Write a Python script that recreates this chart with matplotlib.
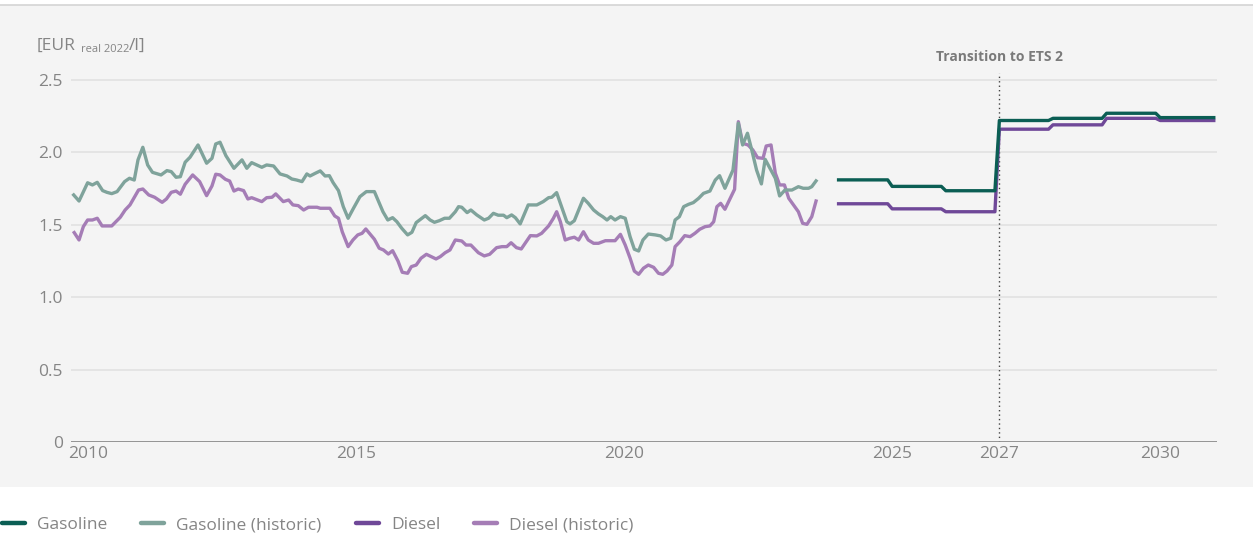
import matplotlib
matplotlib.use("Agg")
import matplotlib.pyplot as plt
from matplotlib.patches import Rectangle
from matplotlib.lines import Line2D
import numpy as np

plt.rcParams['font.family'] = ['Open Sans', 'DejaVu Sans']

# historic prices, EUR real 2022 per litre
gasoline_hist_t = [2009.73, 2009.83, 2009.99, 2010.08, 2010.17, 2010.27, 2010.35, 2010.44, 2010.54, 2010.68,
                   2010.77, 2010.86, 2010.93, 2011.02, 2011.11, 2011.20, 2011.36, 2011.47, 2011.55, 2011.64,
                   2011.72, 2011.81, 2011.90, 2012.05, 2012.21, 2012.31, 2012.38, 2012.46, 2012.57, 2012.72,
                   2012.87, 2012.96, 2013.05, 2013.24, 2013.33, 2013.46, 2013.58, 2013.71, 2013.80, 2013.89,
                   2013.99, 2014.08, 2014.14, 2014.24, 2014.33, 2014.42, 2014.50, 2014.57, 2014.67, 2014.76,
                   2014.85, 2014.95, 2015.07, 2015.19, 2015.34, 2015.42, 2015.50, 2015.59, 2015.68, 2015.76,
                   2015.85, 2015.96, 2016.04, 2016.12, 2016.29, 2016.38, 2016.46, 2016.55, 2016.65, 2016.74,
                   2016.85, 2016.91, 2016.97, 2017.07, 2017.14, 2017.25, 2017.39, 2017.47, 2017.56, 2017.65,
                   2017.75, 2017.81, 2017.90, 2017.97, 2018.06, 2018.21, 2018.37, 2018.49, 2018.59, 2018.65,
                   2018.74, 2018.81, 2018.93, 2018.99, 2019.07, 2019.24, 2019.33, 2019.43, 2019.52, 2019.60,
                   2019.68, 2019.75, 2019.83, 2019.93, 2020.02, 2020.11, 2020.19, 2020.27, 2020.35, 2020.45,
                   2020.58, 2020.68, 2020.78, 2020.87, 2020.95, 2021.03, 2021.11, 2021.20, 2021.29, 2021.39,
                   2021.48, 2021.60, 2021.70, 2021.78, 2021.88, 2022.03, 2022.13, 2022.21, 2022.30, 2022.38,
                   2022.47, 2022.56, 2022.63, 2022.72, 2022.82, 2022.90, 2023.00, 2023.13, 2023.25, 2023.34,
                   2023.44, 2023.50, 2023.58]
gasoline_hist = [1.706, 1.664, 1.790, 1.775, 1.793, 1.736, 1.724, 1.715, 1.729, 1.798,
                 1.821, 1.809, 1.948, 2.035, 1.913, 1.862, 1.844, 1.874, 1.867, 1.828,
                 1.832, 1.932, 1.966, 2.051, 1.925, 1.959, 2.058, 2.070, 1.977, 1.890,
                 1.948, 1.890, 1.929, 1.897, 1.913, 1.906, 1.851, 1.837, 1.816, 1.809,
                 1.798, 1.851, 1.837, 1.856, 1.872, 1.837, 1.839, 1.791, 1.736, 1.625,
                 1.545, 1.614, 1.694, 1.729, 1.729, 1.660, 1.590, 1.533, 1.549, 1.521,
                 1.476, 1.430, 1.448, 1.515, 1.563, 1.533, 1.517, 1.528, 1.545, 1.545,
                 1.590, 1.625, 1.621, 1.584, 1.602, 1.568, 1.533, 1.545, 1.579, 1.566,
                 1.566, 1.549, 1.568, 1.549, 1.506, 1.637, 1.637, 1.660, 1.687, 1.690,
                 1.722, 1.648, 1.521, 1.506, 1.528, 1.683, 1.648, 1.602, 1.575, 1.556,
                 1.533, 1.556, 1.533, 1.556, 1.545, 1.418, 1.331, 1.319, 1.395, 1.436,
                 1.430, 1.423, 1.395, 1.407, 1.533, 1.556, 1.625, 1.641, 1.653, 1.683,
                 1.717, 1.733, 1.809, 1.839, 1.752, 1.878, 2.201, 2.051, 2.132, 2.017,
                 1.878, 1.782, 1.952, 1.890, 1.821, 1.699, 1.740, 1.740, 1.763, 1.752,
                 1.752, 1.763, 1.803]

diesel_hist_t = [2009.74, 2009.83, 2009.91, 2009.99, 2010.08, 2010.17, 2010.26, 2010.44, 2010.60, 2010.69,
                 2010.78, 2010.94, 2011.02, 2011.13, 2011.24, 2011.38, 2011.46, 2011.55, 2011.64, 2011.72,
                 2011.81, 2011.95, 2012.08, 2012.21, 2012.31, 2012.38, 2012.46, 2012.56, 2012.64, 2012.72,
                 2012.80, 2012.90, 2012.98, 2013.05, 2013.24, 2013.33, 2013.43, 2013.50, 2013.58, 2013.64,
                 2013.74, 2013.82, 2013.92, 2014.02, 2014.11, 2014.27, 2014.33, 2014.51, 2014.60, 2014.67,
                 2014.74, 2014.85, 2014.94, 2015.03, 2015.11, 2015.18, 2015.26, 2015.34, 2015.43, 2015.51,
                 2015.60, 2015.68, 2015.78, 2015.86, 2015.96, 2016.03, 2016.12, 2016.21, 2016.31, 2016.40,
                 2016.49, 2016.57, 2016.66, 2016.75, 2016.85, 2016.97, 2017.05, 2017.14, 2017.28, 2017.39,
                 2017.49, 2017.62, 2017.72, 2017.81, 2017.89, 2017.99, 2018.08, 2018.25, 2018.37, 2018.46,
                 2018.59, 2018.68, 2018.74, 2018.81, 2018.90, 2018.99, 2019.07, 2019.15, 2019.24, 2019.33,
                 2019.43, 2019.52, 2019.65, 2019.74, 2019.83, 2019.93, 2020.02, 2020.11, 2020.19, 2020.27,
                 2020.36, 2020.45, 2020.55, 2020.64, 2020.72, 2020.80, 2020.89, 2020.95, 2021.04, 2021.13,
                 2021.23, 2021.32, 2021.41, 2021.51, 2021.60, 2021.67, 2021.73, 2021.80, 2021.88, 2021.98,
                 2022.06, 2022.13, 2022.21, 2022.31, 2022.40, 2022.49, 2022.59, 2022.65, 2022.74, 2022.82,
                 2022.90, 2022.99, 2023.07, 2023.16, 2023.25, 2023.33, 2023.41, 2023.50, 2023.58]
diesel_hist = [1.446, 1.395, 1.487, 1.533, 1.533, 1.545, 1.492, 1.492, 1.552, 1.602,
               1.637, 1.740, 1.747, 1.706, 1.690, 1.655, 1.678, 1.724, 1.733, 1.711,
               1.780, 1.844, 1.798, 1.701, 1.768, 1.849, 1.844, 1.814, 1.802, 1.733,
               1.747, 1.736, 1.678, 1.687, 1.660, 1.687, 1.690, 1.713, 1.683, 1.660,
               1.671, 1.637, 1.632, 1.602, 1.621, 1.621, 1.614, 1.614, 1.561, 1.545,
               1.452, 1.349, 1.395, 1.430, 1.441, 1.471, 1.436, 1.400, 1.338, 1.326,
               1.298, 1.321, 1.250, 1.172, 1.165, 1.211, 1.222, 1.269, 1.296, 1.280,
               1.264, 1.280, 1.307, 1.326, 1.395, 1.388, 1.360, 1.360, 1.307, 1.285,
               1.296, 1.342, 1.349, 1.349, 1.376, 1.342, 1.333, 1.425, 1.423, 1.441,
               1.492, 1.545, 1.590, 1.521, 1.395, 1.407, 1.414, 1.395, 1.452, 1.395,
               1.372, 1.372, 1.390, 1.390, 1.390, 1.434, 1.360, 1.270, 1.180, 1.158,
               1.200, 1.222, 1.206, 1.165, 1.158, 1.181, 1.222, 1.349, 1.383, 1.425,
               1.418, 1.441, 1.469, 1.487, 1.492, 1.521, 1.625, 1.648, 1.607, 1.683,
               1.745, 2.212, 2.063, 2.051, 2.017, 1.963, 1.959, 2.044, 2.051, 1.856,
               1.775, 1.775, 1.683, 1.637, 1.590, 1.510, 1.503, 1.556, 1.664]

# projected yearly prices
proj_years = [2024, 2025, 2026, 2027, 2028, 2029, 2030]
gasoline_proj = [1.810, 1.765, 1.735, 2.220, 2.235, 2.270, 2.240]
diesel_proj = [1.645, 1.610, 1.590, 2.160, 2.190, 2.235, 2.220]

x_ticks = [2010, 2015, 2020, 2025, 2027, 2030]
y_ticks = [0, 0.5, 1.0, 1.5, 2.0, 2.5]
y_labels = ['0', '0.5', '1.0', '1.5', '2.0', '2.5']
ets_year = 2027

c_gas = '#0b5e54'
c_gas_hist = '#7fa39b'
c_die = '#6f4898'
c_die_hist = '#a57db6'
grey_txt = '#858585'

# monthly projection path (value held over each year)
proj_t = proj_years[0] + np.arange(len(proj_years) * 12 + 1) / 12
gas_proj_m = np.append(np.repeat(gasoline_proj, 12), gasoline_proj[-1])
die_proj_m = np.append(np.repeat(diesel_proj, 12), diesel_proj[-1])

fig = plt.figure(figsize=(12.53, 5.57), dpi=100)
W, H = 1253, 557
fig.patches.append(Rectangle((0, 70 / H), 1, (487 - 5) / H, transform=fig.transFigure,
                             facecolor='#f4f4f4', edgecolor='none', zorder=-10))
fig.lines.append(Line2D([0, 1], [1 - 5 / H, 1 - 5 / H], transform=fig.transFigure,
                        color='#d4d4d4', lw=1.2, zorder=-9))

ax = fig.add_axes([71 / W, (H - 442) / H, (1217 - 71) / W, (442 - 73) / H])
ax.set_facecolor('none')
ax.set_zorder(1)

lw = 2.4
ax.plot(diesel_hist_t, diesel_hist, color=c_die_hist, lw=lw, zorder=3, label='Diesel (historic)')
ax.plot(gasoline_hist_t, gasoline_hist, color=c_gas_hist, lw=lw, zorder=4, label='Gasoline (historic)')
ax.plot(proj_t, die_proj_m, color=c_die, lw=lw, zorder=3, label='Diesel')
ax.plot(proj_t, gas_proj_m, color=c_gas, lw=lw, zorder=4, label='Gasoline')

ax.axvline(ets_year, color='#444444', lw=1.0, ls=(0, (1, 2.2)), zorder=2)
ax.text(ets_year, 2.66, 'Transition to ETS 2', ha='center', va='center',
        fontsize=10, fontweight='bold', color='#7a7a7a', clip_on=False)

ax.set_xlim(2009.68, 2031.06)
ax.set_ylim(0, 2.548)
ax.set_yticks(y_ticks)
ax.set_yticklabels(y_labels)
ax.set_xticks(x_ticks)
ax.set_xticklabels([str(t) for t in x_ticks])
for y in y_ticks[1:]:
    ax.axhline(y, color='#e3e3e3', lw=1.3, zorder=1)
ax.axhline(0, color='#8c8c8c', lw=1.3, zorder=2)
for s in ax.spines.values():
    s.set_visible(False)
ax.tick_params(axis='both', length=0, labelsize=12.5, labelcolor=grey_txt)
ax.tick_params(axis='y', pad=6)
ax.tick_params(axis='x', pad=3)

# unit label
fig.text(37 / W, 1 - 46 / H, '[EUR', fontsize=12.5, color=grey_txt, va='center')
fig.text(81 / W, 1 - 50 / H, 'real 2022', fontsize=8, color=grey_txt, va='center')
fig.text(129 / W, 1 - 46 / H, '/l]', fontsize=12.5, color=grey_txt, va='center')

h, l = ax.get_legend_handles_labels()
order = [3, 1, 2, 0]
leg = fig.legend([h[i] for i in order], [l[i] for i in order], loc='center left',
                 bbox_to_anchor=(-0.011, 1 - 525 / H), ncol=4, frameon=False,
                 fontsize=12.5, handlelength=1.33, handletextpad=0.7, columnspacing=1.95)
for t in leg.get_texts():
    t.set_color(grey_txt)
for ln in leg.get_lines():
    ln.set_linewidth(3.2)
    ln.set_solid_capstyle('round')

fig.savefig('out.png', dpi=100)
